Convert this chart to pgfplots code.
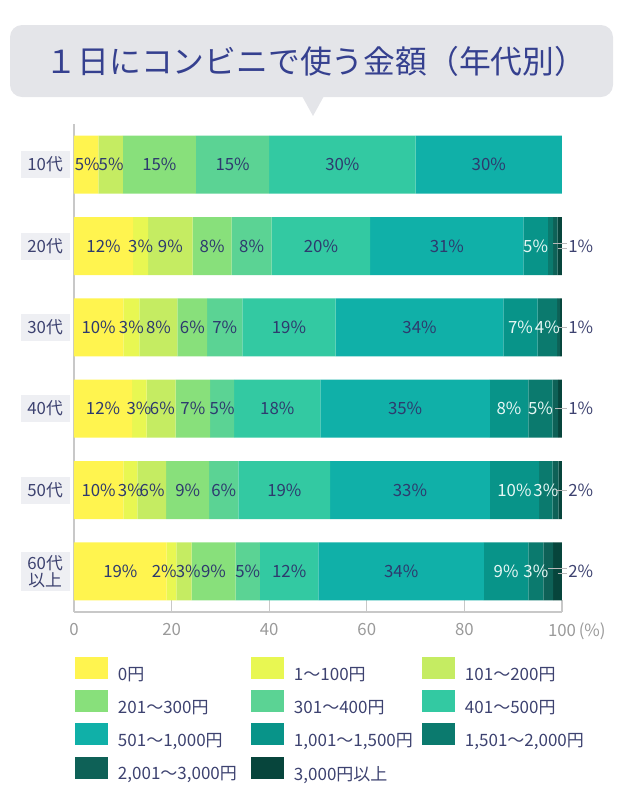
\documentclass[border=0pt]{standalone}
\usepackage{pgfplots}
\pgfplotsset{compat=1.18}
\usepackage{fontspec}
\setmainfont{Noto Sans CJK JP}
\definecolor{c0}{HTML}{FFF44F}
\definecolor{c1}{HTML}{E8F752}
\definecolor{c2}{HTML}{C5EC62}
\definecolor{c3}{HTML}{88E07B}
\definecolor{c4}{HTML}{5BD394}
\definecolor{c5}{HTML}{33C9A2}
\definecolor{c6}{HTML}{10B0A8}
\definecolor{c7}{HTML}{089489}
\definecolor{c8}{HTML}{0B7A6E}
\definecolor{c9}{HTML}{0E6157}
\definecolor{c10}{HTML}{07453C}
\definecolor{bubble}{HTML}{E4E5E9}
\definecolor{titleblue}{HTML}{35408F}
\definecolor{navy}{HTML}{2E3A6E}
\definecolor{catnavy}{HTML}{3D4270}
\definecolor{labelbg}{HTML}{EEEFF3}
\definecolor{axisgray}{HTML}{C8C8C8}
\definecolor{tickgray}{HTML}{9A9A9A}
\definecolor{whitelab}{HTML}{E6F7F5}
\newcommand{\fs}{\fontsize{8.4}{8.6}\selectfont}
\newcommand{\LA}[1]{\makebox[66.5pt][l]{#1}}
\newcommand{\LB}[1]{\makebox[64pt][l]{#1}}
\tikzset{
  lab/.style={text=navy, font=\fs, inner sep=0pt},
  wlab/.style={text=whitelab, font=\fs, inner sep=0pt},
  olab/.style={text=catnavy, font=\fs, inner sep=0pt, anchor=west},
  leader/.style={draw=gray!55, line width=0.5pt},
}
\newcommand{\barlabels}{%
% row 0: 10代
\node[lab] at (axis cs:2.7,0) {5\%};
\node[lab] at (axis cs:7.6,0) {5\%};
\node[lab] at (axis cs:17.5,0) {15\%};
\node[lab] at (axis cs:32.5,0) {15\%};
\node[lab] at (axis cs:55,0) {30\%};
\node[lab] at (axis cs:85,0) {30\%};
% row 1: 20代
\node[lab] at (axis cs:6.05,1) {12\%};
\node[lab] at (axis cs:13.65,1) {3\%};
\node[lab] at (axis cs:19.75,1) {9\%};
\node[lab] at (axis cs:28.3,1) {8\%};
\node[lab] at (axis cs:36.4,1) {8\%};
\node[lab] at (axis cs:50.6,1) {20\%};
\node[lab] at (axis cs:76.4,1) {31\%};
\node[wlab] at (axis cs:94.6,1) {5\%};
\draw[leader] (axis cs:98.2,0.97) -- (axis cs:101,0.97);
\draw[leader] (axis cs:99.1,1.03) -- (axis cs:101,1.03);
\node[olab] at (axis cs:101.2,1) {1\%};
% row 2: 30代
\node[lab] at (axis cs:5.05,2) {10\%};
\node[lab] at (axis cs:11.75,2) {3\%};
\node[lab] at (axis cs:17.3,2) {8\%};
\node[lab] at (axis cs:24.25,2) {6\%};
\node[lab] at (axis cs:30.9,2) {7\%};
\node[lab] at (axis cs:44.05,2) {19\%};
\node[lab] at (axis cs:70.8,2) {34\%};
\node[wlab] at (axis cs:91.5,2) {7\%};
\node[wlab] at (axis cs:97.0,2) {4\%};
\draw[leader] (axis cs:99.3,2) -- (axis cs:101,2);
\node[olab] at (axis cs:101.2,2) {1\%};
% row 3: 40代
\node[lab] at (axis cs:5.95,3) {12\%};
\node[lab] at (axis cs:13.3,3) {3\%};
\node[lab] at (axis cs:18.1,3) {6\%};
\node[lab] at (axis cs:24.35,3) {7\%};
\node[lab] at (axis cs:30.35,3) {5\%};
\node[lab] at (axis cs:41.65,3) {18\%};
\node[lab] at (axis cs:67.85,3) {35\%};
\node[wlab] at (axis cs:89.15,3) {8\%};
\node[wlab] at (axis cs:95.6,3) {5\%};
\draw[leader] (axis cs:98.6,3) -- (axis cs:101,3);
\node[olab] at (axis cs:101.2,3) {1\%};
% row 4: 50代
\node[lab] at (axis cs:5.05,4) {10\%};
\node[lab] at (axis cs:11.55,4) {3\%};
\node[lab] at (axis cs:16.0,4) {6\%};
\node[lab] at (axis cs:23.3,4) {9\%};
\node[lab] at (axis cs:30.7,4) {6\%};
\node[lab] at (axis cs:43.1,4) {19\%};
\node[lab] at (axis cs:68.85,4) {33\%};
\node[wlab] at (axis cs:90.25,4) {10\%};
\node[wlab] at (axis cs:96.7,4) {3\%};
\draw[leader] (axis cs:98.7,4) -- (axis cs:101,4);
\node[olab] at (axis cs:101.2,4) {2\%};
% row 5: 60代以上
\node[lab] at (axis cs:9.5,5) {19\%};
\node[lab] at (axis cs:18.5,5) {2\%};
\node[lab] at (axis cs:23.4,5) {3\%};
\node[lab] at (axis cs:28.6,5) {9\%};
\node[lab] at (axis cs:35.6,5) {5\%};
\node[lab] at (axis cs:44.1,5) {12\%};
\node[lab] at (axis cs:67.05,5) {34\%};
\node[wlab] at (axis cs:88.55,5) {9\%};
\node[wlab] at (axis cs:94.65,5) {3\%};
\draw[leader] (axis cs:97.2,4.97) -- (axis cs:101,4.97);
\draw[leader] (axis cs:99.1,5.03) -- (axis cs:101,5.03);
\node[olab] at (axis cs:101.2,5) {2\%};
}
\begin{document}
\begin{tikzpicture}[x=0.5pt,y=-0.5pt]
\path (0,0) rectangle (623,800);
\fill[bubble,rounded corners=6pt] (10,25) rectangle (613,97);
\fill[bubble] (302,96) -- (324,96) -- (313,116) -- cycle;
\node[text=titleblue,font=\fontsize{15.9}{18}\selectfont] at (316,61) {１日にコンビニで使う金額（年代別）};
\begin{axis}[
  at={(37pt,-306pt)}, anchor=south west,
  width=244pt, height=244pt, scale only axis,
  xmin=0, xmax=100, ymin=-0.5, ymax=5.5, y dir=reverse,
  xbar stacked, bar width=29pt,
  axis x line*=bottom, axis y line*=left,
  axis line style={-, draw=axisgray, line width=0.6pt},
  xtick={0,20,40,60,80,100},
  xticklabels={0,20,40,60,80,{100\rlap{\,(\%)}}},
  tick align=inside, major tick length=6pt,
  xtick style={draw=axisgray, line width=0.6pt},
  ytick={0,1,2,3,4,5},
  yticklabels={10代,20代,30代,40代,50代,{60代\\以上}},
  ytick style={draw=none},
  xticklabel style={text=tickgray, font=\fs, yshift=-2pt},
  yticklabel style={fill=labelbg, text=catnavy, font=\fs, minimum width=24.5pt, minimum height=13.5pt, inner sep=1.5pt, align=center, xshift=-2pt},
  clip=false,
  after end axis/.code={\barlabels},
  legend columns=3,
  legend cell align=left,
  legend style={draw=none, fill=none, at={(axis description cs:0.002,-0.092)}, anchor=north west, inner sep=0pt, outer sep=0pt, row sep=3.5pt,
    nodes={inner sep=0pt, text=catnavy, font=\fontsize{8.5}{9}\selectfont},
    /tikz/every odd column/.style={column sep=5pt},
    /tikz/every even column/.style={column sep=0pt}},
  legend image code/.code={\fill[#1] (0pt,-1.9pt) rectangle (16.5pt,9.1pt);},
]
\addplot[fill=c0,draw=none] coordinates {(5,0) (12.1,1) (10.1,2) (11.9,3) (10.1,4) (19.0,5)};
\addlegendentry{\LA{0円}}
\addplot[fill=c1,draw=none] coordinates {(0,0) (3.1,1) (3.3,2) (3.0,3) (2.9,4) (2.0,5)};
\addlegendentry{\LB{1〜100円}}
\addplot[fill=c2,draw=none] coordinates {(5,0) (9.1,1) (7.8,2) (5.9,3) (5.9,4) (3.1,5)};
\addlegendentry{101〜200円}
\addplot[fill=c3,draw=none] coordinates {(15,0) (8.0,1) (6.1,2) (7.1,3) (8.8,4) (9.0,5)};
\addlegendentry{\LA{201〜300円}}
\addplot[fill=c4,draw=none] coordinates {(15,0) (8.2,1) (7.2,2) (4.9,3) (6.0,4) (5.0,5)};
\addlegendentry{\LB{301〜400円}}
\addplot[fill=c5,draw=none] coordinates {(30,0) (20.2,1) (19.1,2) (17.7,3) (18.8,4) (12.0,5)};
\addlegendentry{401〜500円}
\addplot[fill=c6,draw=none] coordinates {(30,0) (31.4,1) (34.4,2) (34.7,3) (32.7,4) (33.9,5)};
\addlegendentry{\LA{501〜1,000円}}
\addplot[fill=c7,draw=none] coordinates {(0,0) (5.0,1) (7.0,2) (7.9,3) (10.1,4) (9.1,5)};
\addlegendentry{\LB{1,001〜1,500円}}
\addplot[fill=c8,draw=none] coordinates {(0,0) (1.1,1) (4.0,2) (5.0,3) (2.8,4) (3.1,5)};
\addlegendentry{1,501〜2,000円}
\addplot[fill=c9,draw=none] coordinates {(0,0) (0.9,1) (0.6,2) (1.1,3) (1.2,4) (2.0,5)};
\addlegendentry{\LA{2,001〜3,000円}}
\addplot[fill=c10,draw=none] coordinates {(0,0) (0.9,1) (0.4,2) (0.8,3) (0.7,4) (1.8,5)};
\addlegendentry{\LB{3,000円以上}}
\end{axis}
\end{tikzpicture}
\end{document}
